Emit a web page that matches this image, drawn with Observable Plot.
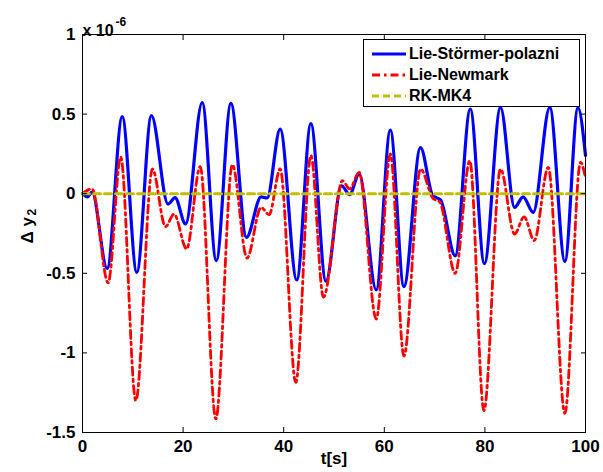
<!DOCTYPE html>
<html><head><meta charset="utf-8">
<script src="https://cdn.jsdelivr.net/npm/d3@7"></script>
<script src="https://cdn.jsdelivr.net/npm/@observablehq/plot@0.6"></script>
<style>
body{margin:0;background:#fff;}
#wrap{position:relative;width:603px;height:472px;font-family:"Liberation Sans",Arial,sans-serif;}
#legend{position:absolute;left:363px;top:39px;width:217px;height:68px;border:1px solid #000;background:#fff;box-sizing:border-box;}
.row{position:absolute;left:0;height:20px;}
.row svg{position:absolute;left:7px;top:0;}
.row span{position:absolute;left:45px;top:0;line-height:20px;font-size:16px;font-weight:bold;color:#000;white-space:nowrap;}
</style></head><body><div id="wrap"></div>
<script>
// Data (values in units of 1e-6)
const seriesNames = ["Lie-Störmer-polazni", "Lie-Newmark", "RK-MK4"];
const seriesColors = ["#0000ff", "#ff0000", "#bfbf00"];
const seriesDash = [null, "8,4,2.5,4", "7,4"];
const seriesWidth = [3.2, 2.8, 3];

const tBlue = [0,1.0,1.9,4.9,7.9,10.8,13.7,17.0,18.4,20.5,23.8,26.6,29.5,32.6,35.5,36.7,39.3,42.6,45.4,48.4,51.5,53.1,55.0,58.4,61.2,63.9,67.2,69.6,71.2,74.1,77.1,79.9,83.1,85.9,87.6,89.6,92.9,95.9,98.5,100];
const yBlue = [0,-0.02,0.01,-0.47,0.484,-0.494,0.49,-0.065,-0.025,-0.19,0.573,-0.42,0.567,-0.274,-0.02,-0.027,0.406,-0.542,0.44,-0.55,0.05,-0.006,0.124,-0.605,0.40,-0.584,0.29,-0.01,-0.04,-0.39,0.532,-0.44,0.542,-0.086,-0.02,-0.117,0.542,-0.425,0.54,0.24];

const tRed = [0,1.9,5.1,7.6,10.6,13.9,16.5,18.2,20.7,23.4,26.5,29.8,32.7,35.5,37.1,39.3,42.4,45.4,47.9,51.7,53.1,55.0,58.4,61.2,63.9,67.2,69.7,71.0,74.1,77.0,79.8,83.1,85.9,87.8,89.8,92.6,95.9,99.0,100];
const yRed = [0,0.03,-0.56,0.23,-1.30,0.155,-0.207,-0.128,-0.347,0.17,-1.415,0.182,-0.404,-0.086,-0.132,0.155,-1.185,0.24,-0.65,0.082,0.03,0.134,-0.787,0.25,-1.02,0.155,-0.03,-0.05,-0.50,0.207,-1.363,0.155,-0.253,-0.145,-0.295,0.165,-1.38,0.197,0.1];

const tRK = [0, 100];
const yRK = [0, 0];

const xTicks = [0, 20, 40, 60, 80, 100];
const yTicks = [-1.5, -1, -0.5, 0, 0.5, 1];
const xLabel = "t[s]";
const yLabel = "Δ y";
const yLabelSub = "2";
const scaleText = "x 10";
const scaleExp = "-6";

const blue = tBlue.map((t, i) => ({t, v: yBlue[i]}));
const red = tRed.map((t, i) => ({t, v: yRed[i]}));
const rk = tRK.map((t, i) => ({t, v: yRK[i]}));

const fmt = d => String(d);
const txt = {fontFamily: "Liberation Sans, Arial, sans-serif", fontWeight: "bold", fill: "#000"};

const chart = Plot.plot({
  width: 603, height: 472,
  marginLeft: 82, marginRight: 18, marginTop: 34, marginBottom: 40,
  style: {background: "#fff", fontFamily: "Liberation Sans, Arial, sans-serif", overflow: "visible"},
  x: {domain: [0, 100], label: null},
  y: {domain: [-1.5, 1], label: null},
  marks: [
    Plot.line(blue, {x: "t", y: "v", stroke: seriesColors[0], strokeWidth: seriesWidth[0], curve: "monotone-x"}),
    Plot.line(red, {x: "t", y: "v", stroke: seriesColors[1], strokeWidth: seriesWidth[1], strokeDasharray: seriesDash[1], curve: "monotone-x"}),
    Plot.line(rk, {x: "t", y: "v", stroke: seriesColors[2], strokeWidth: seriesWidth[2], strokeDasharray: seriesDash[2]}),
    Plot.axisX(xTicks, {anchor: "bottom", tickSize: -5, text: null, label: null, stroke: "#000"}),
    Plot.axisX(xTicks, {anchor: "top", tickSize: -5, text: null, label: null, stroke: "#000"}),
    Plot.axisY(yTicks, {anchor: "left", tickSize: -5, text: null, label: null, stroke: "#000"}),
    Plot.axisY(yTicks, {anchor: "right", tickSize: -5, text: null, label: null, stroke: "#000"}),
    Plot.axisX(xTicks, {anchor: "bottom", tickSize: 0, tickPadding: 7, tickFormat: fmt, label: null, fontSize: 17, ...txt}),
    Plot.axisY(yTicks, {anchor: "left", tickSize: 0, tickPadding: 7, tickFormat: fmt, label: null, fontSize: 17, ...txt}),
    Plot.frame({stroke: "#000", strokeWidth: 1}),
    Plot.text([xLabel], {text: d => d, frameAnchor: "bottom", dy: 31, fontSize: 17, ...txt}),
    Plot.text([yLabel], {text: d => d, frameAnchor: "left", dx: -55, dy: 10, rotate: -90, fontSize: 17, ...txt}),
    Plot.text([yLabelSub], {text: d => d, frameAnchor: "left", dx: -50, dy: -18, rotate: -90, fontSize: 12, ...txt}),
    Plot.text([scaleText], {text: d => d, frameAnchor: "top-left", textAnchor: "start", dx: 0, dy: -10, fontSize: 16, ...txt}),
    Plot.text([scaleExp], {text: d => d, frameAnchor: "top-left", textAnchor: "start", dx: 33, dy: -17, fontSize: 12, ...txt})
  ]
});

const wrap = document.getElementById("wrap");
wrap.appendChild(chart);

const legend = document.createElement("div");
legend.id = "legend";
seriesNames.forEach((name, i) => {
  const row = document.createElement("div");
  row.className = "row";
  row.style.top = (4 + 21 * i) + "px";
  row.style.width = "100%";
  const svg = d3.create("svg").attr("width", 36).attr("height", 20);
  svg.append("line").attr("x1", 1).attr("x2", 35).attr("y1", 10).attr("y2", 10)
    .attr("stroke", seriesColors[i]).attr("stroke-width", seriesWidth[i])
    .attr("stroke-dasharray", seriesDash[i]);
  row.appendChild(svg.node());
  const span = document.createElement("span");
  span.textContent = name;
  row.appendChild(span);
  legend.appendChild(row);
});
wrap.appendChild(legend);
</script>
</body></html>
